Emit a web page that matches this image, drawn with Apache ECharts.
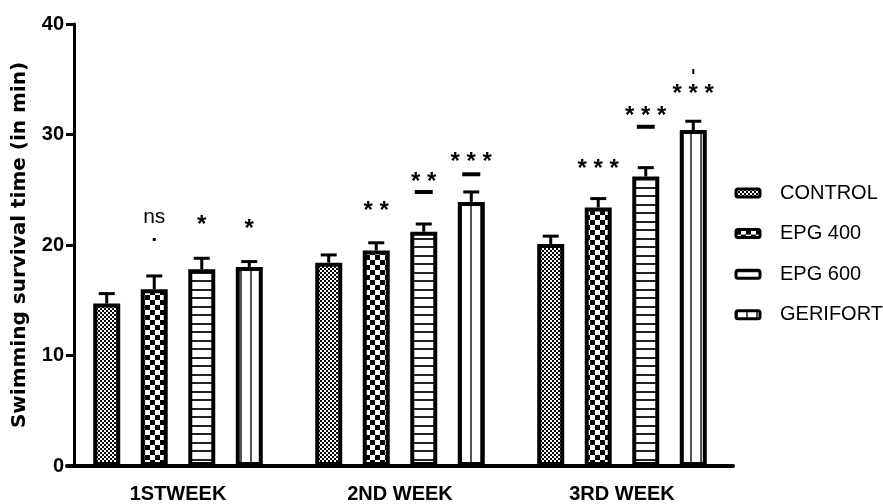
<!DOCTYPE html>
<html><head><meta charset="utf-8">
<script src="https://cdn.jsdelivr.net/npm/echarts@6/dist/echarts.min.js"></script>
<style>html,body{margin:0;padding:0;background:#fff}#c{width:883px;height:504px}</style>
</head><body><div id="c"></div>
<script>
const categories = ['1STWEEK', '2ND WEEK', '3RD WEEK'];
const seriesNames = ['CONTROL', 'EPG 400', 'EPG 600', 'GERIFORT'];
const controlMean = [14.7, 18.4, 20.1];
const controlSem = [0.9, 0.7, 0.7];
const epg400Mean = [16.0, 19.5, 23.4];
const epg400Sem = [1.2, 0.7, 0.8];
const epg600Mean = [17.8, 21.2, 26.2];
const epg600Sem = [1.0, 0.7, 0.8];
const gerifortMean = [18.0, 23.9, 30.4];
const gerifortSem = [0.5, 0.9, 0.8];
// significance annotations (value units)
const controlSig = ['', '', ''];
const epg400Sig = ['ns', '* *', '* * *'];
const epg600Sig = ['*', '* *', '* * *'];
const gerifortSig = ['*', '* * *', '* * *'];
const controlSigY = [null, null, null];
const epg400SigY = [22.3, 23.6, 27.4];
const epg600SigY = [22.3, 26.2, 32.2];
const gerifortSigY = [22.0, 28.0, 34.2];
const controlDashY = [null, null, null];
const epg400DashY = [null, null, null];
const epg600DashY = [null, 24.8, 30.7];
const gerifortDashY = [null, 26.4, null];
const epg400DotY = [20.5, null, null];
const gerifortTickY = [null, null, 35.7];
const yMin = 0, yMax = 40, yStep = 10;

const FONT = "'Liberation Sans', Arial, sans-serif";

function pat(w, h, draw) {
  const c = document.createElement('canvas'); c.width = w; c.height = h;
  const g = c.getContext('2d'); g.fillStyle = '#fff'; g.fillRect(0, 0, w, h);
  g.fillStyle = '#000'; draw(g);
  return { image: c, repeat: 'repeat' };
}
const patterns = [
  pat(4, 4, g => { g.fillRect(0, 0, 2, 2); g.fillRect(2, 2, 2, 2); }),
  pat(10, 10, g => { g.fillRect(0, 0, 5, 5); g.fillRect(5, 5, 5, 5); }),
  pat(4, 17, g => { g.fillStyle = '#222'; g.fillRect(0, 0, 4, 2); g.fillRect(0, 8, 4, 2); }),
  pat(10, 4, g => { g.fillStyle = '#555'; g.fillRect(0, 0, 2, 4); })
];

const means = [controlMean, epg400Mean, epg600Mean, gerifortMean];
const sems = [controlSem, epg400Sem, epg600Sem, gerifortSem];
const sigs = [controlSig, epg400Sig, epg600Sig, gerifortSig];
const sigYs = [controlSigY, epg400SigY, epg600SigY, gerifortSigY];
const dashYs = [controlDashY, epg400DashY, epg600DashY, gerifortDashY];
const dotYs = [[null, null, null], epg400DotY, [null, null, null], [null, null, null]];
const tickYs = [[null, null, null], [null, null, null], [null, null, null], gerifortTickY];

const BAR_W = 27, BAR_GAP = 0.76, STEP = BAR_W * (1 + BAR_GAP);

function makeRender(s) {
  return function (params, api) {
    const i = api.value(0), m = api.value(1);
    const p0 = api.coord([i, m]);
    const cx = p0[0] + (s - 1.5) * STEP;
    const pc = api.coord([i, m + sems[s][i]]);
    const ch = [
      { type: 'line', shape: { x1: cx, y1: p0[1], x2: cx, y2: pc[1] }, style: { stroke: '#000', lineWidth: 3 } },
      { type: 'line', shape: { x1: cx - 8, y1: pc[1], x2: cx + 8, y2: pc[1] }, style: { stroke: '#000', lineWidth: 3 } }
    ];
    const t = sigs[s][i];
    if (t) {
      const py = api.coord([i, sigYs[s][i]])[1];
      const isNs = t === 'ns';
      ch.push({ type: 'text', x: cx, y: isNs ? py - 2 : py + 6,
        style: { text: t, fill: '#000', align: 'center', verticalAlign: 'middle',
          font: (isNs ? 'normal 21px ' : 'bold 24px ') + FONT } });
    }
    if (dashYs[s][i] != null) {
      const py = api.coord([i, dashYs[s][i]])[1];
      ch.push({ type: 'rect', shape: { x: cx - 9, y: py - 2, width: 18, height: 4 }, style: { fill: '#000' } });
    }
    if (dotYs[s][i] != null) {
      const py = api.coord([i, dotYs[s][i]])[1];
      ch.push({ type: 'rect', shape: { x: cx - 1.5, y: py - 1.5, width: 3, height: 3 }, style: { fill: '#000' } });
    }
    if (tickYs[s][i] != null) {
      const py = api.coord([i, tickYs[s][i]])[1];
      ch.push({ type: 'rect', shape: { x: cx - 1, y: py - 2.5, width: 2, height: 5 }, style: { fill: '#000' } });
    }
    return { type: 'group', children: ch };
  };
}

const series = [];
seriesNames.forEach((n, s) => {
  series.push({
    name: n, type: 'bar', data: means[s], barWidth: BAR_W, barGap: (BAR_GAP * 100) + '%',
    xAxisIndex: 0, yAxisIndex: 0,
    itemStyle: { color: patterns[s], borderColor: '#000', borderWidth: 4 },
    emphasis: { disabled: true }, animation: false
  });
});
seriesNames.forEach((n, s) => {
  series.push({
    type: 'custom', data: means[s].map((v, i) => [i, v]), encode: { x: 0, y: 1 },
    xAxisIndex: 0, yAxisIndex: 0,
    renderItem: makeRender(s), z: 5, silent: true, animation: false
  });
});

const chart = echarts.init(document.getElementById('c'), null, { renderer: 'canvas' });
chart.setOption({
  animation: false,
  backgroundColor: '#fff',
  grid: [
    { left: 67, right: 150, top: 24, bottom: 38 },
    { left: 74, right: 154, top: 24, bottom: 38 }
  ],
  legend: {
    orient: 'vertical', left: 734.5, top: 183, itemWidth: 24, itemHeight: 8, itemGap: 20.6,
    padding: 0, data: seriesNames, selectedMode: false,
    itemStyle: { borderColor: '#000', borderWidth: 3 },
    textStyle: { color: '#000', fontSize: 20, fontFamily: FONT, lineHeight: 20, padding: [0, 0, 0, 15] }
  },
  xAxis: [{
    type: 'category', data: categories, gridIndex: 0,
    axisLine: { lineStyle: { color: '#000', width: 4 } },
    axisTick: { alignWithLabel: true, length: 10, lineStyle: { color: '#000', width: 3 } },
    axisLabel: { color: '#000', fontWeight: 'bold', fontSize: 20, fontFamily: FONT, margin: 18 }
  }, {
    type: 'value', gridIndex: 1, show: false
  }],
  yAxis: [{
    type: 'value', gridIndex: 0, min: yMin, max: yMax, interval: yStep, show: false
  }, {
    type: 'value', gridIndex: 1, min: yMin, max: yMax, interval: yStep,
    axisLine: { show: true, lineStyle: { color: '#000', width: 3 } },
    axisTick: { show: true, length: 8, lineStyle: { color: '#000', width: 3 } },
    axisLabel: { color: '#000', fontWeight: 'bold', fontSize: 20, fontFamily: FONT, margin: 10 },
    splitLine: { show: false },
    name: 'Swimming survival time (in min)', nameLocation: 'middle', nameGap: 44,
    nameTextStyle: { color: '#000', fontWeight: 'bold', fontSize: 20, fontFamily: "'DejaVu Sans', sans-serif" }
  }],
  series: series
});
</script></body></html>
